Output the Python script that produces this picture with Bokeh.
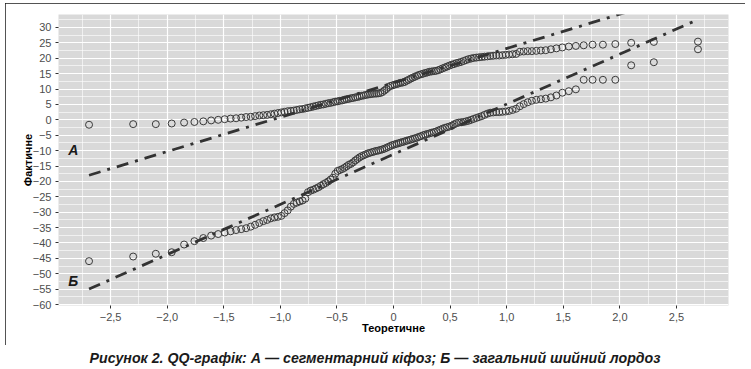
from statistics import NormalDist
from bokeh.plotting import figure
from bokeh.layouts import column
from bokeh.models import Range1d, FixedTicker, Label
from bokeh.embed import file_html
from bokeh.resources import INLINE

# ---- data (sorted sample values) ----
kyphosis_a = [
    -1.6, -1.4, -1.4, -1.2, -0.9, -0.7, -0.5,
    -0.2, 0.0, 0.2, 0.4, 0.5, 0.7, 0.9, 1.0, 1.2, 1.4, 1.5, 1.6, 1.8, 2.0, 2.2, 2.4,
    2.6, 2.8, 2.9, 3.0, 3.2, 3.4, 3.5, 3.7, 3.9, 4.1, 4.3, 4.5, 4.7, 4.9, 5.0, 5.2, 5.4,
    5.5, 5.7, 5.9, 6.0, 6.2, 6.3, 6.5, 6.7, 6.8, 7.0, 7.1, 7.3, 7.4, 7.6, 7.8, 7.9, 8.1, 8.2, 8.3, 8.4,
    8.5, 8.5, 8.6, 8.7, 9.0, 9.5, 10.0, 10.6, 11.0, 11.2, 11.4, 11.6, 11.8, 12.0, 12.1, 12.3, 12.7, 13.0, 13.4, 13.7,
    14.0, 14.3, 14.6, 14.8, 15.0, 15.2, 15.4, 15.6, 15.7, 15.8, 15.9, 16.1, 16.4, 16.7, 17.0, 17.3, 17.6, 17.9, 18.1, 18.4,
    18.6, 18.8, 19.1, 19.4, 19.7, 19.9, 20.1, 20.2, 20.3, 20.4, 20.5, 20.6, 20.7, 20.8, 20.9, 20.9, 21.0, 21.1, 21.2, 21.3,
    21.4, 22.1, 22.2, 22.3, 22.3, 22.4, 22.5, 22.6, 22.9, 23.2, 23.5, 23.8, 24.0, 24.2, 24.4, 24.4, 24.6, 25.0, 25.3, 25.4,
]
lordosis_b = [
    -45.9, -44.4, -43.5, -43.0, -40.5, -39.4, -38.4,
    -37.6, -37.1, -36.6, -36.2, -35.8, -35.5, -35.2, -34.7, -34.1, -33.5, -32.9, -32.5, -32.0, -31.7, -31.5, -31.2,
    -30.3, -29.4, -28.2, -27.3, -26.9, -26.5, -26.2, -25.6, -23.5, -23.0, -22.7, -22.3, -21.9, -21.4, -20.9, -20.5, -20.0,
    -19.4, -18.8, -17.5, -16.6, -16.3, -16.0, -15.6, -15.1, -14.6, -14.3, -13.8, -13.2, -12.7, -12.2, -11.8, -11.5, -11.2, -10.9, -10.7, -10.5,
    -10.3, -10.1, -10.0, -9.8, -9.6, -9.4, -9.1, -8.8, -8.5, -8.2, -8.0, -7.8, -7.6, -7.4, -7.2, -7.0, -6.8, -6.6, -6.4, -6.2,
    -6.0, -5.8, -5.5, -5.3, -5.0, -4.8, -4.6, -4.4, -4.2, -4.0, -3.8, -3.5, -3.2, -2.9, -2.6, -2.4, -2.2, -1.9, -1.5, -1.1,
    -0.9, -0.8, -0.7, -0.5, -0.3, 0.0, 0.3, 0.6, 0.9, 1.2, 1.6, 2.0, 2.3, 2.4, 2.5, 2.5, 2.6, 2.7, 2.9, 3.2,
    3.6, 4.4, 5.1, 5.7, 6.2, 6.5, 6.7, 6.9, 7.3, 7.9, 8.8, 9.3, 9.9, 13.0, 13.0, 13.0, 13.0, 17.7, 18.7, 22.9,
]
# reference (QQ) lines: intercept, slope
qq_line_a = (12.0, 11.15)
qq_line_b = (-11.2, 16.27)

x_ticks = [-2.5, -2.0, -1.5, -1.0, -0.5, 0.0, 0.5, 1.0, 1.5, 2.0, 2.5]
x_tick_labels = ["−2,5", "−2,0", "−1,5", "−1,0", "−0,5", "0", "0,5", "1,0", "1,5", "2,0", "2,5"]
y_ticks = [-60, -55, -50, -45, -40, -35, -30, -25, -20, -15, -10, -5, 0, 5, 10, 15, 20, 25, 30]
y_tick_labels = ["−60", "−55", "−50", "−45", "−40", "−35", "−30", "−25", "−20", "−15", "−10", "−5",
                 "0", "5", "10", "15", "20", "25", "30"]
x_title = "Теоретичне"
y_title = "Фактичне"
caption = "Рисунок 2. QQ-графік: А  — сегментарний кіфоз; Б — загальний шийний лордоз"
panel_labels = ["А", "Б"]


def theoretical(values):
    n = len(values)
    nd = NormalDist()
    return [nd.inv_cdf((i + 0.5) / n) for i in range(n)]


FONT = "Liberation Sans"
p = figure(width=740, height=342, output_backend="svg", toolbar_location=None,
           x_range=Range1d(-2.96, 2.96), y_range=Range1d(-60.3, 34.2),
           min_border_left=53, min_border_right=17, min_border_top=11, min_border_bottom=40,
           margin=(3, 0, 0, 5))
p.styles = {"outline": "1.5px solid #1a1a1a", "outline-offset": "-1px"}
p.background_fill_color = "#D9D9D9"
p.border_fill_color = "white"
p.outline_line_color = None

x_minor = [(a + b) / 2 for a, b in zip([-3.0] + x_ticks, x_ticks + [3.0])]
y_minor = [(a + b) / 2 for a, b in zip([-65] + y_ticks, y_ticks + [35])]
p.xaxis.ticker = FixedTicker(ticks=x_ticks, minor_ticks=x_minor)
p.yaxis.ticker = FixedTicker(ticks=y_ticks, minor_ticks=y_minor)
p.xaxis.major_label_overrides = {t: s for t, s in zip(x_ticks, x_tick_labels)}
p.yaxis.major_label_overrides = {t: s for t, s in zip(y_ticks, y_tick_labels)}

for ax in (p.xaxis[0], p.yaxis[0]):
    ax.axis_line_color = None
    ax.major_tick_line_color = "#333333"
    ax.major_tick_in = 0
    ax.major_tick_out = 3
    ax.minor_tick_line_color = None
    ax.major_label_text_font = FONT
    ax.major_label_text_font_size = "11px"
    ax.major_label_text_color = "#4D4D4D"
    ax.major_label_standoff = 3
    ax.axis_label_text_font = FONT
    ax.axis_label_text_font_size = "11px"
    ax.axis_label_text_font_style = "bold"
    ax.axis_label_text_color = "black"
p.xaxis.axis_label = x_title
p.yaxis.axis_label = y_title
p.xaxis.axis_label_standoff = -2
p.yaxis.axis_label_standoff = -4

for g in (p.xgrid[0], p.ygrid[0]):
    g.grid_line_color = "white"
    g.grid_line_width = 1.2
    g.minor_grid_line_color = "white"
    g.minor_grid_line_width = 0.6

for vals, (b0, b1) in ((kyphosis_a, qq_line_a), (lordosis_b, qq_line_b)):
    xs = theoretical(vals)
    p.scatter(xs, vals, marker="circle", size=7, fill_color=None,
              line_color="#3a3a3a", line_width=1)
    lx = [xs[0], xs[-1]]
    p.line(lx, [b0 + b1 * v for v in lx], line_color="#333333", line_width=2.8,
           line_dash="12 7 3 7")

for txt, (lx, ly) in zip(panel_labels, [(-2.83, -9.7), (-2.83, -52.5)]):
    p.add_layout(Label(x=lx, y=ly, text=txt, text_font=FONT, text_font_size="14px",
                       text_font_style="bold italic", text_align="center",
                       text_baseline="middle", text_color="#1a1a1a"))

# caption strip below the framed chart
cap = figure(width=751, height=24, output_backend="svg", toolbar_location=None,
             x_range=Range1d(0, 1), y_range=Range1d(0, 1),
             min_border_left=0, min_border_right=0, min_border_top=0, min_border_bottom=0)
cap.axis.visible = False
cap.grid.visible = False
cap.outline_line_color = None
cap.background_fill_color = "white"
cap.add_layout(Label(x=0.053, y=0.5, text=caption, text_font=FONT, text_font_size="14.2px",
                     text_font_style="bold italic", text_align="left",
                     text_baseline="middle", text_color="#1a1a1a"))

layout = column(p, cap, spacing=0)
open("out.html", "w").write(file_html(layout, INLINE))
